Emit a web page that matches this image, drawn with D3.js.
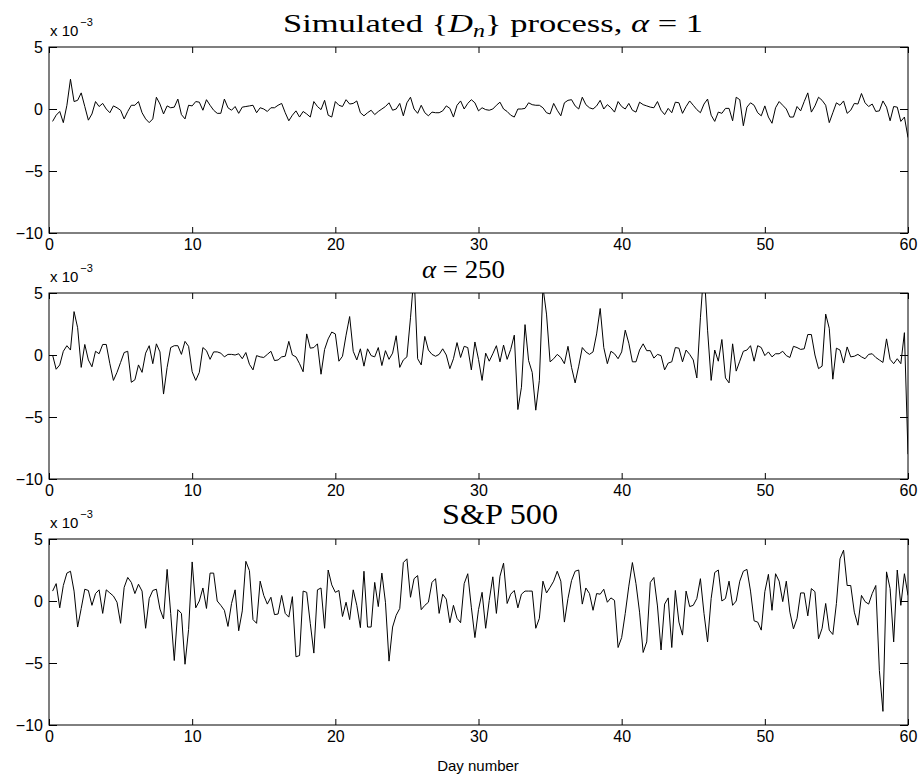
<!DOCTYPE html>
<html>
<head>
<meta charset="utf-8">
<script src="https://cdn.jsdelivr.net/npm/d3@7"></script>
<style>
  body { margin: 0; background: #fff; }
  svg { display: block; }
  .tick line { stroke: #000; }
  .title { font-family: "Liberation Serif", "DejaVu Serif", serif; fill: #000; }
  .small { font-family: "Liberation Sans", Arial, sans-serif; fill: #000; }
</style>
</head>
<body>
<svg id="chart" width="921" height="774"></svg>
<script>
//series values in units of 1e-3, sampled every quarter day (day 0.25 .. 60)
var alphaOne = [
  -1.0, -0.5, -0.2, -1.1, 0.3, 2.4, 0.6, 0.7, 1.3, 0.2,
  -0.9, -0.4, 0.6, 0.2, 0.45, 0.0, -0.3, 0.25, 0.1, -0.1,
  -0.8, -0.2, 0.3, 0.3, 0.6, -0.3, -0.8, -1.1, -0.8, 0.95,
  0.4, -0.4, 0.25, 0.1, 0.15, 0.8, -0.45, -0.8, 0.3, 0.25,
  0.6, 0.55, -0.1, 0.75, 0.3, -0.1, -0.35, -0.35, 0.8, 0.1,
  -0.1, 0.2, -0.35, 0.15, 0.2, 0.25, 0.3, -0.3, 0.1, 0.0,
  -0.2, 0.1, 0.1, 0.3, 0.45, -0.3, -0.95, -0.5, -0.15, -0.65,
  -0.2, -0.4, -0.65, 0.6, 0.2, -0.05, 0.7, -0.5, -0.65, 0.6,
  0.3, 0.2, 0.75, 0.4, 0.45, 0.65, -0.3, -0.55, -0.3, -0.1,
  -0.45, -0.2, 0.0, 0.2, 0.5, -0.1, 0.0, 0.45, -0.55, 0.5,
  0.95, 0.0, -0.35, 0.3, -0.3, -0.55, -0.25, -0.3, -0.3, -0.15,
  0.25, 0.05, -0.65, 0.3, 0.65, 0.0, 0.45, 0.75, 0.5, -0.15,
  0.1, -0.05, -0.1, 0.0, 0.3, 0.55, 0.0, -0.2, -0.5, -0.65,
  0.0, 0.0, 0.05, 0.5, 0.35, 0.3, 0.3, 0.1, -0.3, -0.4,
  0.45, -0.1, -0.55, 0.5, 0.7, 0.75, 0.25, 0.0, 0.95, 0.35,
  0.1, 0.0, 0.25, 0.7, 0.0, 0.35, 0.1, -0.25, 0.6, 0.2,
  0.0, 0.45, -0.1, -0.25, 0.55, 0.35, 0.25, 0.15, 0.1, 0.6,
  -0.1, -0.45, 0.05, -0.3, 0.55, 0.5, -0.35, 0.2, 0.65, 0.3,
  -0.05, -0.3, 0.4, 0.8, -0.5, -1.0, -0.25, -0.35, 0.05, 0.05,
  -0.95, 0.95, 0.75, -1.35, 0.15, 0.5, 0.3, -0.3, -0.55, 0.25,
  -0.65, -1.15, 0.1, 0.6, 0.3, 0.0, -0.65, -0.65, 0.2, -0.15,
  0.6, 1.3, -0.25, 0.25, 0.95, 0.7, 0.3, -1.1, -0.3, 0.5,
  0.3, 0.65, -0.35, -0.1, 0.45, 0.4, 1.25, 0.5, 0.2, 0.4,
  -0.2, -0.15, 0.65, 0.15, -0.95, 0.2, 0.15, -1.0, -0.65, -2.3
];

var alpha250 = [
  0.0, -1.15, -0.8, 0.3, 0.75, 0.4, 3.5, 2.2, -1.0, 0.85,
  -0.4, -0.95, 0.3, 0.1, 0.85, 0.85, -0.7, -2.05, -1.4, -0.6,
  0.2, 0.3, -2.2, -2.0, -0.8, -1.4, 0.15, 0.75, -0.7, 0.9,
  0.25, -3.15, -1.0, 0.6, 0.75, 0.75, 0.05, 1.1, 0.7, -1.35,
  -2.05, -1.4, 0.6, 0.35, -0.35, 0.25, 0.25, 0.15, -0.15, 0.05,
  0.05, 0.0, 0.1, -0.3, 0.2, -0.75, -1.2, -0.05, -0.15, -0.2,
  0.05, 0.3, -0.45, -0.4, -0.15, -0.1, 1.1, 0.0, -0.15, -0.7,
  -1.35, 1.7, 0.55, 0.6, 0.9, -1.55, 0.45, 1.3, 1.85, 1.7,
  -0.5, -0.1, 1.6, 3.1, 0.3, -0.4, 0.5, -0.9, 0.5, -0.05,
  -0.15, 0.6, -0.85, 0.35, -0.35, 0.15, 1.55, -1.0, -0.4, -0.15,
  3.0, 6.5, -0.3, -0.8, 1.5, 0.4, 0.05, -0.1, 0.05, 0.5,
  0.0, -1.1, -0.3, 1.0, -0.2, 0.7, 0.6, -1.2, 1.05, -0.35,
  -2.05, 0.15, -0.5, 0.1, 0.75, -0.55, 0.8, -0.35, 0.45, 1.6,
  -4.4, -2.6, 2.45, -0.45, -1.4, -4.45, -2.05, 5.5, 3.3, -0.55,
  -0.3, 0.05, -0.2, -0.7, 0.7, -1.0, -2.25, -0.9, 0.6, 0.25,
  0.05, 0.25, 1.7, 3.75, 0.6, -0.7, 0.3, 0.1, -0.3, 0.25,
  2.0, 0.95, -0.55, -0.55, 0.4, 0.9, 0.35, 0.35, -0.25, 0.05,
  -0.05, -1.2, -0.65, -0.55, 0.6, 0.55, -0.55, 0.4, 0.05, -0.4,
  -1.85, 3.0, 7.0, 2.0, -2.05, 0.4, -0.5, 1.25, -1.85, -2.25,
  0.9, -1.3, -0.5, 0.3, 0.4, 0.75, -0.5, 0.75, 0.6, -0.05,
  0.25, -0.15, 0.1, 0.1, 0.3, -0.05, -0.2, 0.7, 0.6, 0.45,
  0.5, 1.65, 1.65, 0.0, -1.1, -0.9, 3.3, 2.15, -1.95, 0.55,
  0.4, -0.65, 0.65, -0.15, -0.1, 0.05, -0.15, -0.3, 0.05, 0.1,
  -0.2, -0.4, -0.6, 1.3, -0.35, -0.7, -0.3, -0.7, 1.8, -8.0
];

var sp500 = [
  0.8, 1.4, -0.55, 1.25, 2.25, 2.4, 0.8, -2.1, -0.6, 0.95,
  0.85, -0.35, 0.6, 0.9, -1.0, 0.9, 0.65, 0.4, -0.1, -1.8,
  1.1, 1.9, 1.5, 0.6, 1.35, 0.8, -2.2, 0.2, 0.85, 0.95,
  -0.65, -1.45, 2.55, -1.0, -4.8, -0.7, -1.0, -5.1, -2.3, 3.15,
  -0.55, 0.0, 1.05, -0.6, 2.25, 2.25, 0.0, -0.35, -0.75, -2.05,
  -0.2, 0.9, -2.4, -0.8, 3.2, 2.45, -1.5, -1.8, 1.6, 0.45,
  -0.25, 0.3, -1.1, -1.05, 0.45, -1.0, -1.3, 0.35, -4.5, -4.4,
  0.8, 0.7, -1.8, -4.2, 0.9, 1.05, -2.2, 2.5, 1.3, 0.7,
  0.85, -1.25, -0.1, -1.5, 0.9, -0.35, -2.15, 2.4, -2.1, -2.1,
  1.5, -0.45, 2.25, -0.1, -4.85, -2.1, -1.15, -0.6, 3.1, 3.4,
  0.3, 1.8, 2.05, -0.7, -0.35, -0.1, 1.5, 1.8, -1.0, 0.55,
  0.15, -1.75, -0.35, -1.4, -1.75, 1.4, 2.2, -0.5, -2.95, -0.7,
  0.7, -2.2, 0.05, 1.95, -1.0, 2.0, 3.05, -0.2, 0.55, 0.85,
  -0.55, 0.55, 0.8, 0.8, 0.8, -2.2, -1.4, 1.6, 0.65, 1.1,
  1.6, 2.4, 1.6, -1.7, 0.2, 1.65, 2.4, 2.5, -0.25, 1.05,
  0.6, -0.75, 0.6, 0.55, 0.95, -0.1, 0.25, 0.05, -3.75, -2.95,
  -1.0, 1.2, 3.1, 1.4, -0.9, -4.15, -3.3, 1.5, 1.9, -0.4,
  -3.95, -0.25, 0.25, -3.75, 0.85, -1.7, -2.75, 0.8, -0.45, -0.35,
  0.2, 1.8, -1.0, -3.3, 0.2, 2.3, 2.5, 0.0, 0.2, 1.6,
  -0.35, 0.0, 1.6, 2.4, 2.55, 0.8, -1.6, -1.7, -2.35, 0.75,
  2.15, -0.75, 2.2, 1.6, -0.05, 1.6, -0.9, -2.25, -1.4, 0.65,
  0.65, -1.2, 1.0, 0.75, -3.05, -2.2, -0.2, -2.35, -2.7, -0.2,
  3.4, 4.1, 1.25, 1.25, -0.9, -1.95, 0.45, -0.05, -0.25, 0.6,
  1.25, -5.6, -8.9, 2.35, 1.0, -3.3, 2.5, -0.35, 2.2, 0.45
];

var xTicks = [0, 10, 20, 30, 40, 50, 60],
    yTicks = [5, 0, -5, -10];

var svg = d3.select('#chart');

var left = 49, right = 908, plotH = 186;
//title box: start x, target width, font size
var panels = [
  {top: 47, values: alphaOne, title: 'alpha1', tx: 283, tw: 420, fs: 26},
  {top: 293, values: alpha250, title: 'alpha250', tx: 422, tw: 83, fs: 26},
  {top: 539, values: sp500, title: 'sp', tx: 442, tw: 116, fs: 30}
];

var x = d3.scaleLinear().domain([0, 60]).range([left, right]);

function drawPanel(p, idx){
  var y = d3.scaleLinear().domain([-10, 5]).range([p.top + plotH, p.top]);
  var g = svg.append('g');

  g.append('clipPath').attr('id', 'clip' + idx)
    .append('rect').attr('x', left).attr('y', p.top)
    .attr('width', right - left).attr('height', plotH);

  var line = d3.line()
    .x(function(d, i){ return x((i + 1) / 4); })
    .y(function(d){ return y(d); });

  g.append('path').datum(p.values)
    .attr('clip-path', 'url(#clip' + idx + ')')
    .attr('fill', 'none').attr('stroke', '#000').attr('stroke-width', 1)
    .attr('d', line);

  //MATLAB style box with inward ticks on all four sides
  var fmt = function(d){ return d < 0 ? '\u2212' + Math.abs(d) : d; };
  var ax = [
    d3.axisBottom(x).tickValues(xTicks).tickSize(-6).tickPadding(6).tickFormat(fmt),
    d3.axisTop(x).tickValues(xTicks).tickSize(-6).tickFormat(''),
    d3.axisLeft(y).tickValues(yTicks).tickSize(-8).tickPadding(6).tickFormat(fmt),
    d3.axisRight(y).tickValues(yTicks).tickSize(-8).tickFormat('')
  ];
  var tr = ['translate(0,' + (p.top + plotH) + ')', 'translate(0,' + p.top + ')',
            'translate(' + left + ',0)', 'translate(' + right + ',0)'];
  ax.forEach(function(a, k){
    var ga = g.append('g').attr('transform', tr[k]).call(a.tickSizeOuter(0))
      .attr('font-family', '"Liberation Sans", Arial, sans-serif').attr('font-size', 16);
    ga.select('.domain').remove();
  });

  g.append('rect').attr('x', left).attr('y', p.top)
    .attr('width', right - left).attr('height', plotH)
    .attr('fill', 'none').attr('stroke', '#000').attr('stroke-width', 1);

  //exponent label
  var ex = g.append('text').attr('class', 'small').attr('x', left + 1).attr('y', p.top - 11)
    .attr('font-size', 15);
  ex.append('tspan').text('x 10');
  ex.append('tspan').attr('font-size', 11).attr('dy', -10).attr('dx', 2).text('\u22123');

  //titles, stretched to the width of the TeX rendering
  var t = g.append('text').attr('class', 'title').attr('x', p.tx)
    .attr('y', p.top - 15).attr('font-size', p.fs)
    .attr('textLength', p.tw).attr('lengthAdjust', 'spacingAndGlyphs');
  if (p.title === 'alpha1') {
    t.append('tspan').text('Simulated {');
    t.append('tspan').attr('font-style', 'italic').text('D');
    t.append('tspan').attr('font-style', 'italic').attr('font-size', 18).attr('dy', 5).text('n');
    t.append('tspan').attr('dy', -5).text('} process,  ');
    t.append('tspan').attr('font-style', 'italic').text('\u03b1');
    t.append('tspan').text(' = 1');
  } else if (p.title === 'alpha250') {
    t.append('tspan').attr('font-style', 'italic').text('\u03b1');
    t.append('tspan').text(' = 250');
  } else {
    t.append('tspan').text('S&P 500');
  }
}

panels.forEach(drawPanel);

svg.append('text').attr('class', 'small').attr('x', 478).attr('y', 771)
  .attr('text-anchor', 'middle').attr('font-size', 15).text('Day number');
</script>
</body>
</html>
